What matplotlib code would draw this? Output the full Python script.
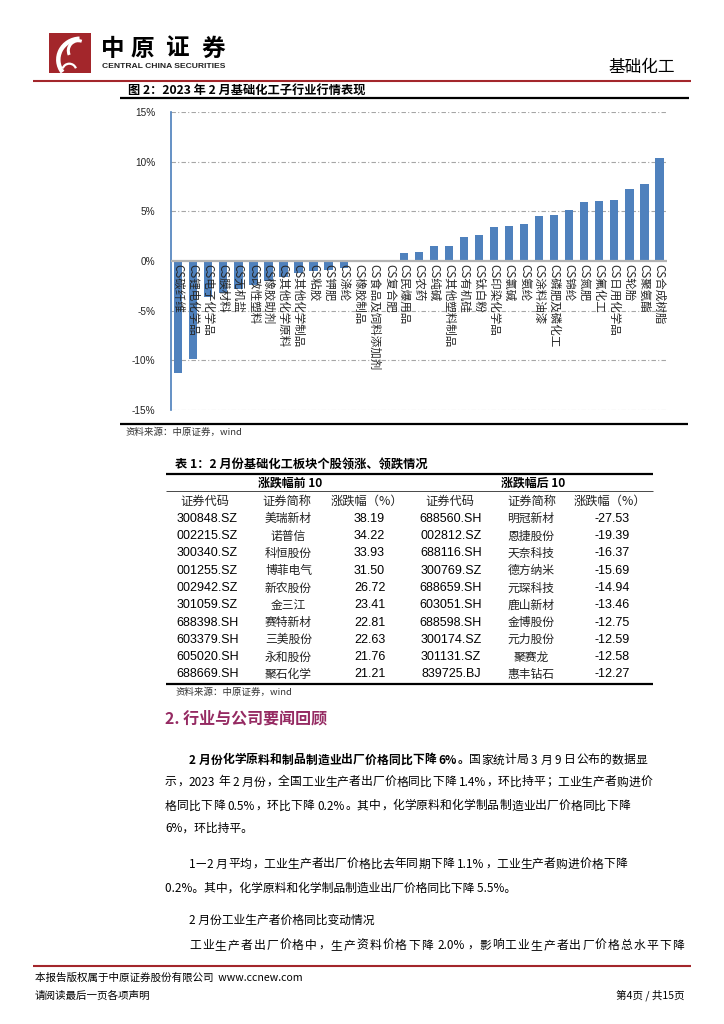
import re
import matplotlib
matplotlib.use('Agg')
import matplotlib.pyplot as plt
from matplotlib.lines import Line2D
from matplotlib.patches import Rectangle, Arc
from matplotlib.font_manager import FontProperties

# ---------------- data ----------------
categories = ['CS碳纤维', 'CS锂电化学品', 'CS电子化学品', 'CS膜材料', 'CS无机盐', 'CS改性塑料',
              'CS橡胶助剂', 'CS其他化学原料', 'CS其他化学制品', 'CS粘胶', 'CS钾肥', 'CS涤纶',
              'CS橡胶制品', 'CS食品及饲料添加剂', 'CS复合肥', 'CS民爆用品', 'CS农药', 'CS纯碱',
              'CS其他塑料制品', 'CS有机硅', 'CS钛白粉', 'CS印染化学品', 'CS氯碱', 'CS氨纶',
              'CS涂料油漆', 'CS磷肥及磷化工', 'CS锦纶', 'CS氮肥', 'CS氟化工', 'CS日用化学品',
              'CS轮胎', 'CS聚氨酯', 'CS合成树脂']
values = [-11.3, -9.9, -3.6, -3.2, -2.8, -2.4, -2.0, -1.6, -1.2, -1.0, -0.9, -0.7,
          0.05, 0.1, 0.15, 0.8, 0.9, 1.5, 1.5, 2.4, 2.6, 3.4, 3.5, 3.7,
          4.5, 4.6, 5.1, 5.9, 6.0, 6.1, 7.2, 7.8, 10.4]
yticks = [-15, -10, -5, 0, 5, 10, 15]
ytick_labels = ['-15%', '-10%', '-5%', '0%', '5%', '10%', '15%']

top_codes = ['300848.SZ', '002215.SZ', '300340.SZ', '001255.SZ', '002942.SZ',
             '301059.SZ', '688398.SH', '603379.SH', '605020.SH', '688669.SH']
top_names = ['美瑞新材', '诺普信', '科恒股份', '博菲电气', '新农股份',
             '金三江', '赛特新材', '三美股份', '永和股份', '聚石化学']
top_pct = ['38.19', '34.22', '33.93', '31.50', '26.72', '23.41', '22.81', '22.63', '21.76', '21.21']
bot_codes = ['688560.SH', '002812.SZ', '688116.SH', '300769.SZ', '688659.SH',
             '603051.SH', '688598.SH', '300174.SZ', '301131.SZ', '839725.BJ']
bot_names = ['明冠新材', '恩捷股份', '天奈科技', '德方纳米', '元琛科技',
             '鹿山新材', '金博股份', '元力股份', '聚赛龙', '惠丰钻石']
bot_pct = ['-27.53', '-19.39', '-16.37', '-15.69', '-14.94', '-13.46', '-12.75', '-12.59', '-12.58', '-12.27']
col_headers = ['证券代码', '证券简称', '涨跌幅（%）', '证券代码', '证券简称', '涨跌幅（%）']

# ---------------- page setup ----------------
W, H = 724, 1024
fig = plt.figure(figsize=(7.24, 10.24), dpi=100)
CJK = ['Noto Sans CJK SC', 'DejaVu Sans']
LAT = ['Liberation Sans', 'Noto Sans CJK SC']
renderer = fig.canvas.get_renderer()


def fx(x):
    return x / W


def fy(y):
    return 1 - y / H


def txt(x, y, s, size, family=CJK, ha='left', va='center', **kw):
    return fig.text(fx(x), fy(y), s, fontsize=size, family=family, ha=ha, va=va, **kw)


def hline(x0, x1, y, lw, color='black'):
    fig.add_artist(Line2D([fx(x0), fx(x1)], [fy(y), fy(y)], transform=fig.transFigure,
                          lw=lw, color=color, solid_capstyle='butt'))


def tw(s, prop):
    w, h, d = renderer.get_text_width_height_descent(s, prop, ismath=False)
    return w


PUNCT = '，。；：、'


def justified(x0, x1, y, segments, size):
    """Draw a line of text (list of (text, weight)) spread evenly between x0 and x1 (pixels)."""
    toks = []
    for s, weight in segments:
        prop = FontProperties(family=CJK, size=size, weight=weight)
        base = tw('一一', prop)
        for tok in re.findall(r'[0-9A-Za-z.%]+|\s|.', s):
            adv = tw('一' + tok + '一', prop) - base
            ink = 0 if tok.isspace() else tw(tok, prop)
            toks.append((tok, weight, adv, ink))
    total = sum(t[2] for t in toks)
    gap = (x1 - x0 - total) / max(len(toks) - 1, 1)
    em = size * 100 / 72
    x = x0
    first = True
    for tok, weight, adv, ink in toks:
        if not tok.isspace():
            if tok in PUNCT:
                off = 0.08 * em
            else:
                off = (adv - ink) / 2
            if first:
                x -= off
                first = False
            fig.text(fx(x + off), fy(y), tok, fontsize=size, family=CJK, fontweight=weight,
                     ha='left', va='center')
        x += adv + gap


RED = '#a3262b'

# ---------------- header ----------------
axl = fig.add_axes([fx(49.3), fy(72.7), 41.4 / W, 39.4 / H])
axl.set_xlim(0, 41.4)
axl.set_ylim(0, 39.4)
axl.axis('off')
axl.add_patch(Rectangle((0, 0), 41.4, 39.4, color=RED))
axl.add_patch(Arc((31, 13), 44, 42, theta1=92, theta2=215, lw=3.2, color='white'))
axl.add_patch(Arc((29, 22), 20, 20, theta1=70, theta2=205, lw=2.2, color='white'))
axl.add_patch(Arc((20, 2), 14, 14, theta1=20, theta2=160, lw=1.6, color='white'))

for ch, cx in zip('中原证券', [112.5, 142, 177, 213]):
    txt(cx, 48.5, ch, 17, ha='center', fontweight='bold', color='black')
txt(102, 66.7, 'CENTRAL CHINA SECURITIES', 6.1, family=LAT, fontweight='bold', color='#222222')
txt(675, 67.5, '基础化工', 12, ha='right', color='black')
hline(32.7, 690.7, 80.5, 1.5, RED)

txt(128, 90, '图 2：2023 年 2 月基础化工子行业行情表现', 8.8, fontweight='bold')
hline(120, 688.7, 97.7, 1.6)

# ---------------- bar chart ----------------
ax = fig.add_axes([fx(170.7), fy(410), (667 - 170.7) / W, (410 - 112) / H])
x = list(range(len(categories)))
ax.bar(x, values, width=0.55, color='#4f81bd', zorder=3)
ax.set_xlim(-0.5, len(categories) - 0.5)
ax.set_ylim(-15, 15)
ax.set_yticks(yticks)
ax.set_yticklabels(ytick_labels, fontsize=7.2, family=LAT, color='#222222')
ax.tick_params(axis='y', length=0, pad=11)
ax.set_xticks([])
for t in yticks:
    if t != 0:
        ax.axhline(t, color='#a6a6a6', lw=0.8, ls=(0, (4, 2, 1, 2)), zorder=1)
ax.axhline(0, color='#b3b3b3', lw=1.6, zorder=4)
for s in ['top', 'right', 'bottom']:
    ax.spines[s].set_visible(False)
ax.spines['left'].set_color('#4a7ebb')
ax.spines['left'].set_linewidth(1.2)
for i, c in zip(x, categories):
    ax.text(i, -0.35, c, rotation=-90, ha='center', va='top', fontsize=8.3,
            family=CJK, color='#262626', zorder=5)

hline(120, 688, 423.5, 1.6)
txt(125, 432.5, '资料来源：中原证券，wind', 6.8, color='#333333')

# ---------------- table ----------------
txt(175, 465, '表 1：2 月份基础化工板块个股领涨、领跌情况', 8.8, fontweight='bold')
hline(166, 653, 473.5, 1.6)
txt(290, 483, '涨跌幅前 10', 8.6, ha='center', fontweight='bold')
txt(533, 483, '涨跌幅后 10', 8.6, ha='center', fontweight='bold')
hline(166, 653, 491, 0.5)
hx = [205, 287, 367, 450, 532, 610]
for cx, h in zip(hx, col_headers):
    txt(cx, 501, h, 8.8, ha='center', color='#222222')
row_y0, row_dy = 518.7, 17.3
for k in range(len(top_codes)):
    yy = row_y0 + row_dy * k
    txt(207.5, yy, top_codes[k], 9, family=LAT, ha='center')
    txt(288.5, yy, top_names[k], 8.5, ha='center', color='#222222')
    txt(369.5, yy, top_pct[k], 9, family=LAT, ha='center')
    txt(451, yy, bot_codes[k], 9, family=LAT, ha='center')
    txt(531, yy, bot_names[k], 8.5, ha='center', color='#222222')
    txt(630, yy, bot_pct[k], 9, family=LAT, ha='right')
hline(166, 653, 684, 1.6)
txt(176, 691.8, '资料来源：中原证券，wind', 6.8, color='#333333')

# ---------------- body text ----------------
txt(165, 718, '2. 行业与公司要闻回顾', 11.5, fontweight='bold', color='#952a62')

BODY = 8.5
justified(189, 647, 760, [('2 月份化学原料和制品制造业出厂价格同比下降 6%。', 'bold'),
                          ('国家统计局 3 月 9 日公布的数据显', 'normal')], BODY)
justified(165, 652, 782, [('示，2023 年 2 月份，全国工业生产者出厂价格同比下降 1.4%，环比持平；工业生产者购进价', 'normal')], BODY)
justified(165, 630, 806, [('格同比下降 0.5%，环比下降 0.2%。其中，化学原料和化学制品制造业出厂价格同比下降', 'normal')], BODY)
txt(165, 828.5, '6%，环比持平。', BODY)
justified(189, 627, 864, [('1—2 月平均，工业生产者出厂价格比去年同期下降 1.1%，工业生产者购进价格下降', 'normal')], BODY)
txt(165, 888, '0.2%。其中，化学原料和化学制品制造业出厂价格同比下降 5.5%。', BODY)
txt(189, 920.5, '2 月份工业生产者价格同比变动情况', BODY)
justified(189, 684, 945.5, [('工业生产者出厂价格中，生产资料价格下降 2.0%，影响工业生产者出厂价格总水平下降', 'normal')], BODY)

# ---------------- footer ----------------
hline(32.7, 690.7, 966, 1.5, RED)
txt(35, 977.5, '本报告版权属于中原证券股份有限公司  www.ccnew.com', 7.6)
txt(35, 995.5, '请阅读最后一页各项声明', 7.6)
txt(685, 995.5, '第4页 / 共15页', 7.6, ha='right')

fig.savefig('out.png', dpi=100)
